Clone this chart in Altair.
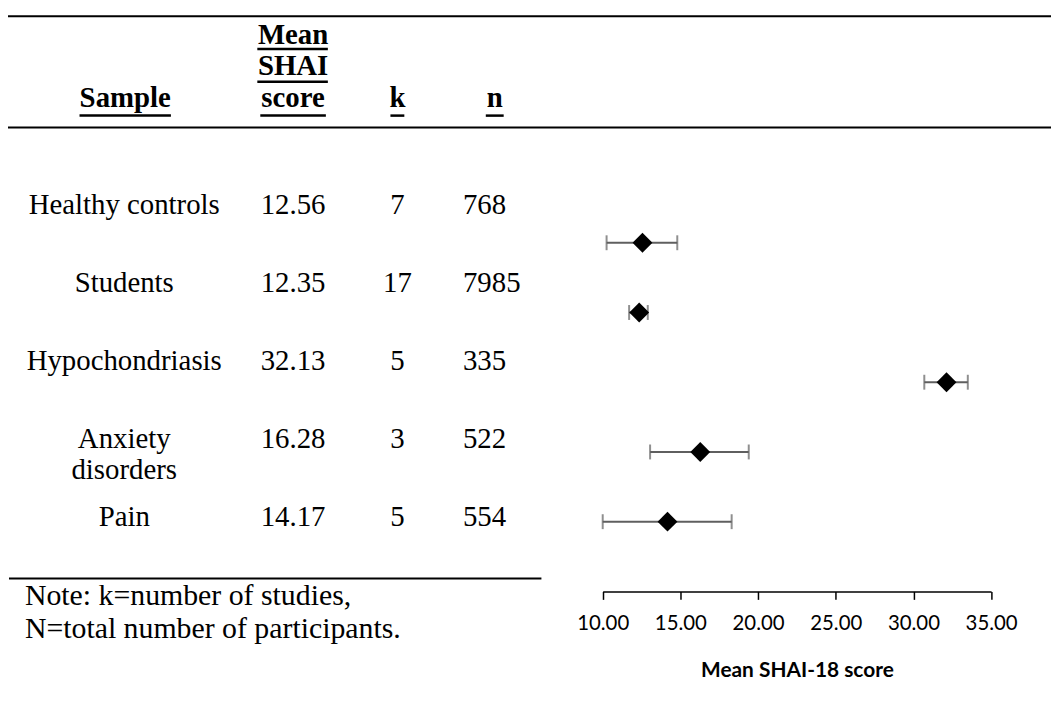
import altair as alt
import pandas as pd

# ---- data ----
samples = ["Healthy controls", "Students", "Hypochondriasis", "Anxiety disorders", "Pain"]
mean_scores = [12.56, 12.35, 32.13, 16.28, 14.17]
k_studies = [7, 17, 5, 3, 5]
n_participants = [768, 7985, 335, 522, 554]
ci_low = [10.25, 11.70, 30.70, 13.05, 10.00]
ci_high = [14.80, 12.90, 33.50, 19.40, 18.30]
x_ticks = [10, 15, 20, 25, 30, 35]
note_lines = ["Note: k=number of studies,", "N=total number of participants."]

n_rows = len(samples)
df = pd.DataFrame({
    "sample": samples,
    "label": [s.replace(" ", "\n") if len(s) > 16 else s for s in samples],
    "mean": mean_scores,
    "k": k_studies,
    "n": n_participants,
    "lo": ci_low,
    "hi": ci_high,
    "row": list(range(n_rows)),                 # table row order (top -> bottom)
    "pos": list(range(n_rows, 0, -1)),          # forest-plot position (top -> bottom)
})

SERIF = "Liberation Serif"
SANS = "Lato"
W, H = 1043, 585
GREY = "#5f5f5f"

# ---- forest plot ----
xscale = alt.Scale(domain=[10, 35], range=[598.7, 989.7])
yscale = alt.Scale(domain=[0, n_rows], range=[H, 234])

xaxis = alt.Axis(
    values=x_ticks, format=".2f", grid=False,
    domainColor="black", domainWidth=1.5, tickColor="black", tickWidth=1.5, tickSize=8,
    labelFont=SANS, labelFontSize=20.5, labelColor="black", labelPadding=14, labelFlush=False,
    title="Mean SHAI-18 score", titleFont=SANS, titleFontSize=21, titleFontWeight="bold",
    titleColor="black", titleBaseline="alphabetic", titleY=86,
)

base = alt.Chart(df)
err = base.mark_rule(color=GREY, strokeWidth=2).encode(
    x=alt.X("lo:Q", scale=xscale, axis=xaxis),
    x2="hi:Q",
    y=alt.Y("pos:Q", scale=yscale, axis=None),
)
cap_lo = base.mark_tick(color=GREY, orient="vertical", size=15, thickness=2).encode(
    x=alt.X("lo:Q", scale=xscale), y=alt.Y("pos:Q", scale=yscale, axis=None))
cap_hi = base.mark_tick(color=GREY, orient="vertical", size=15, thickness=2).encode(
    x=alt.X("hi:Q", scale=xscale), y=alt.Y("pos:Q", scale=yscale, axis=None))
pts = base.mark_point(shape="diamond", filled=True, size=400, color="black", opacity=1).encode(
    x=alt.X("mean:Q", scale=xscale), y=alt.Y("pos:Q", scale=yscale, axis=None))

forest = alt.layer(err, cap_lo, cap_hi, pts)

# ---- table ----
tscale = alt.Scale(domain=[0, n_rows - 1], range=[205, 519])
ty = alt.Y("row:Q", scale=tscale, axis=None)
tfont = dict(font=SERIF, fontSize=29, color="black", baseline="alphabetic")

col_sample = base.mark_text(align="center", lineBreak="\n", lineHeight=31, **tfont).encode(
    x=alt.value(117), y=ty, text="label:N")
col_mean = base.mark_text(align="center", **tfont).encode(
    x=alt.value(287), y=ty, text=alt.Text("mean:Q", format=".2f"))
col_k = base.mark_text(align="center", **tfont).encode(
    x=alt.value(392), y=ty, text=alt.Text("k:Q", format="d"))
col_n = base.mark_text(align="left", **tfont).encode(
    x=alt.value(458), y=ty, text=alt.Text("n:Q", format="d"))

table = alt.layer(col_sample, col_mean, col_k, col_n)

# ---- header, rules and note (decoration) ----
hfont = dict(font=SERIF, fontSize=29, fontWeight="bold", color="black", baseline="alphabetic", align="center")
one = pd.DataFrame({"d": [0]})
deco = []
for txt, x, y in [("Mean", 287, 34), ("SHAI", 287, 65), ("score", 287, 97),
                  ("Sample", 118, 97), ("k", 392, 97), ("n", 490, 97)]:
    deco.append(alt.Chart(one).mark_text(text=txt, **hfont).encode(x=alt.value(x), y=alt.value(y)))

for x1, x2, y, w in [(0, 1050, 6, 2.2), (0, 1050, 118, 2.2), (1, 537, 572, 2),
                     (251, 322, 39, 2.5), (251, 322, 72, 2.5), (254, 320, 106, 2.5),
                     (72, 164, 106, 2.5), (385, 399, 106, 2.5), (481, 499, 106, 2.5)]:
    deco.append(alt.Chart(one).mark_rule(color="black", strokeWidth=w).encode(
        x=alt.value(x1), x2=alt.value(x2), y=alt.value(y)))

for line, y in zip(note_lines, [599, 632]):
    deco.append(alt.Chart(one).mark_text(
        text=line, font=SERIF, fontSize=30, color="black", align="left", baseline="alphabetic",
    ).encode(x=alt.value(17), y=alt.value(y)))

chart = alt.layer(forest, table, *deco).resolve_scale(y="independent").properties(
    width=W, height=H,
    autosize=alt.AutoSizeParams(type="none"),
    padding={"left": 0, "top": 0, "right": 7, "bottom": 110},
).configure_view(stroke=None)

chart.save("out.html", embed_options={"renderer": "svg", "actions": False})
